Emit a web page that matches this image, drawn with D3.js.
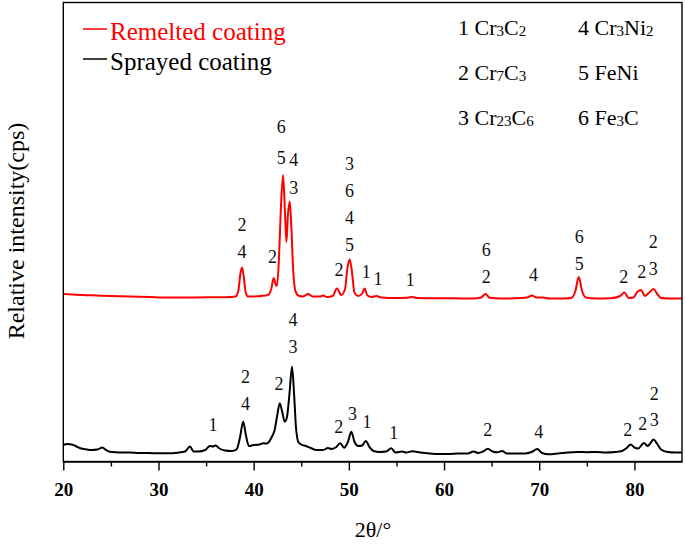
<!DOCTYPE html>
<html><head><meta charset="utf-8">
<script src="https://cdn.jsdelivr.net/npm/d3@7"></script>
<style>
html,body{margin:0;padding:0;background:#fff;}
</style></head>
<body>
<svg id="chart" width="685" height="544" font-family="'Liberation Serif', Tinos, 'Times New Roman', 'Nimbus Roman', 'DejaVu Serif', serif"></svg>
<script>
// ---- data (2θ in degrees, intensity in arbitrary counts) ----
const remeltedTheta = [20.0,21.0,22.0,23.5,25.0,27.0,29.0,31.0,33.0,35.0,36.5,37.5,38.1,38.4,38.6,38.78,38.95,39.15,39.4,40.0,40.8,41.5,41.85,42.1,42.3,42.45,42.65,42.85,43.09,43.3,43.44,43.6,43.79,43.95,44.15,44.4,44.8,45.2,45.7,46.2,47.0,47.3,47.7,48.3,48.75,49.2,49.6,49.85,50.08,50.3,50.6,51.0,51.4,51.66,51.95,52.4,52.9,53.4,55.0,56.0,56.6,57.2,59.0,61.0,63.0,63.9,64.35,64.8,66.0,67.5,68.7,69.25,69.7,70.4,71.0,72.5,73.35,73.8,74.15,74.5,74.9,76.0,77.5,78.5,78.94,79.4,79.9,80.3,80.7,81.1,81.5,82.0,82.4,82.8,83.8,85.0];
const remeltedIntensity = [167.5,167,166.5,166,165.5,165,164.5,164,164,164.2,164.2,164.5,165,171.5,187.5,194,185.5,169.5,165,165,165.5,166.5,172.5,183.5,177.5,175.5,201.5,251.5,286.5,246.5,219.5,246.5,260,236.5,191.5,170,165.5,165,167.5,165,165,166,164.5,165.5,173,166.5,172.5,193.5,202,191.5,168.5,165.5,168,173,166,164.5,165.5,164,163.5,163.7,164.5,163.5,163.2,163.2,163,164,167.5,163.7,163,163.2,164,166,164,164,163,163,163.5,170.5,184.5,170.5,164,163,163.2,165.5,169,163.5,164,169.5,171.5,165.5,168.5,172.5,167.5,163.5,163,163];

const sprayedTheta = [20.0,20.4,20.9,21.3,21.8,22.5,22.9,23.6,24.1,24.5,24.9,26.0,27.0,28.0,29.0,30.0,31.0,32.0,32.8,33.3,33.7,34.2,34.9,35.4,35.7,36.0,36.4,37.0,37.7,38.2,38.55,38.9,39.2,39.5,40.0,40.6,41.0,41.4,41.9,42.2,42.5,42.74,43.0,43.26,43.5,43.75,44.03,44.25,44.45,44.7,45.0,45.5,46.0,46.6,47.3,47.8,48.2,48.6,49.1,49.5,49.9,50.26,50.6,51.0,51.4,51.77,52.2,52.6,53.2,53.9,54.45,54.9,55.6,56.0,56.7,57.5,58.5,59.5,60.5,61.5,62.5,63.1,63.6,64.1,64.6,65.1,65.6,66.1,66.6,67.5,68.5,69.2,69.8,70.3,71.0,72.0,73.0,74.0,75.0,76.0,77.0,78.0,78.7,79.2,79.6,80.0,80.4,81.0,81.4,81.7,82.0,82.4,82.8,83.5,84.3,85.0];
const sprayedIntensity = [16.5,17.5,17,15.5,13.2,12,11.5,12,14,11.5,9.8,9,9,8.5,8.5,8.2,8.2,8.8,10,15,10,10,11.5,15.5,15,16,13,11,10.5,12,23.5,39.8,25.5,15.5,16.5,17,18.2,18,24.5,31.5,47.5,58.2,49.5,39.8,44.5,66.5,94.8,66.5,33.5,19.5,17,15.5,13.5,11.5,11.5,13.5,12.5,14,18.2,13.8,19.5,29.8,19.5,15.5,16,20.5,14,10.5,9.5,10,13.2,9,10,9,10.2,9,8,7.5,7.5,8,8,10,8.5,10,12.8,10,9.2,10.5,8,8,8,9.5,12.5,8.5,7.2,8,9,9.5,9.3,9.5,9,9.5,10.5,13.5,17,14,13,18.5,15.5,18.5,22,17.5,12,9.5,9,9];

// peak annotations: phase number, 2θ, intensity level
const remeltedLabels = ["2","4","2","6","5","4","3","2","3","6","4","5","1","1","1","6","2","4","6","5","2","2","3","2"];
const remeltedLabelTheta = [38.78,38.78,41.97,42.9,42.9,44.21,44.21,48.96,50.08,50.08,50.08,50.08,51.84,53.05,56.45,64.43,64.43,69.39,74.2,74.2,78.87,80.76,81.98,81.98];
const remeltedLabelLevel = [236.5,209.8,204.8,334.5,303.5,301.5,274,191.5,297.5,270.5,244,217,189.8,183.2,181.5,211.5,184.8,186.5,224.8,198.2,184.8,189.8,193.2,219.8];

const sprayedLabels = ["4","3","2","4","2","1","2","3","1","1","2","4","2","2","3","2"];
const sprayedLabelTheta = [44.13,44.13,39.14,39.14,42.67,35.74,48.93,50.37,51.9,54.72,64.6,69.95,79.29,80.87,82.09,82.09];
const sprayedLabelLevel = [141.5,114.8,84.8,58.2,78.2,36.5,34.8,48.2,39.8,29,31.5,29.8,31.5,38.2,41.5,68.2];

const seriesNames = ["Remelted coating","Sprayed coating"];
const phaseNumbers = ["1","2","3","4","5","6"];
const phaseFormulas = ["Cr3C2","Cr7C3","Cr23C6","Cr3Ni2","FeNi","Fe3C"];

const xTickValues = [20,30,40,50,60,70,80];
const xMinorTicks = [25,35,45,55,65,75];
const xTitle = "2θ/°";
const yTitle = "Relative intensity(cps)";

// ---- layout ----
const FONT = "'Liberation Serif', Tinos, 'Times New Roman', 'Nimbus Roman', 'DejaVu Serif', serif";
const mLeft = 63.3, mRight = 682, mTop = 2.5, mBottom = 461.5;
const svg = d3.select("#chart");
const x = d3.scaleLinear().domain([20,85]).range([mLeft,mRight]);
const y = d3.scaleLinear().domain([0,459]).range([mBottom,mTop]);

const line = d3.line().x(d=>x(d[0])).y(d=>y(d[1])).curve(d3.curveMonotoneX);
const remelted = remeltedTheta.map((t,i)=>[t,remeltedIntensity[i]]);
const sprayed = sprayedTheta.map((t,i)=>[t,sprayedIntensity[i]]);

svg.append("path").datum(sprayed).attr("d",line)
  .attr("fill","none").attr("stroke","#000").attr("stroke-width",2).attr("stroke-linejoin","round");
svg.append("path").datum(remelted).attr("d",line)
  .attr("fill","none").attr("stroke","#f00").attr("stroke-width",2).attr("stroke-linejoin","round");

// frame
svg.append("rect").attr("x",mLeft).attr("y",mTop).attr("width",mRight-mLeft).attr("height",mBottom-mTop)
  .attr("fill","none").attr("stroke","#000").attr("stroke-width",1.4);

// x axis
const xAxis = d3.axisBottom(x).tickValues(xTickValues).tickSize(9).tickSizeOuter(0).tickPadding(6);
const gx = svg.append("g").attr("transform",`translate(0,${mBottom})`).call(xAxis)
  .attr("font-family",FONT);
gx.select(".domain").attr("stroke-width",1.4);
gx.selectAll(".tick line").attr("stroke-width",1.4);
gx.selectAll(".tick text").attr("font-size",19).attr("font-weight","bold")
  .attr("font-family",FONT).attr("fill","#000").attr("dy","1.05em");
const gxm = svg.append("g").attr("transform",`translate(0,${mBottom})`)
  .call(d3.axisBottom(x).tickValues(xMinorTicks).tickSize(5).tickFormat(""));
gxm.select(".domain").remove();
gxm.selectAll(".tick line").attr("stroke-width",1.4);

svg.append("text").attr("x",373).attr("y",537).attr("text-anchor","middle")
  .attr("font-family",FONT).attr("font-size",22).text(xTitle);
svg.append("text").attr("transform","translate(24,231) rotate(-90)").attr("text-anchor","middle")
  .attr("font-family",FONT).attr("font-size",24).text(yTitle);

// peak labels
function addLabels(labels, th, lv){
  svg.append("g").selectAll("text").data(labels).join("text")
    .attr("x",(d,i)=>x(th[i])).attr("y",(d,i)=>y(lv[i]))
    .attr("dy","0.35em").attr("text-anchor","middle").attr("font-size",18).attr("fill","#111")
    .attr("font-family",FONT).text(d=>d);
}
addLabels(remeltedLabels, remeltedLabelTheta, remeltedLabelLevel);
addLabels(sprayedLabels, sprayedLabelTheta, sprayedLabelLevel);

// series legend
const legColors = ["#f00","#000"];
seriesNames.forEach((n,i)=>{
  const by = 40 + i*30;
  svg.append("line").attr("x1",83).attr("x2",107).attr("y1",by-11).attr("y2",by-11)
    .attr("stroke",legColors[i]).attr("stroke-width",1.5);
  svg.append("text").attr("x",110).attr("y",by).attr("font-family",FONT).attr("font-size",25)
    .attr("fill",legColors[i]).text(n);
});

// phase legend
phaseFormulas.forEach((f,i)=>{
  const col = Math.floor(i/3), row = i%3;
  const t = svg.append("text").attr("x",458 + col*120).attr("y",35 + row*45)
    .attr("font-family",FONT).attr("font-size",22);
  t.append("tspan").text(phaseNumbers[i] + "\u00a0");
  const parts = f.match(/[A-Za-z]+|\d+/g);
  let shifted = false;
  parts.forEach(p=>{
    if(/\d/.test(p)){
      t.append("tspan").attr("font-size",15).attr("dy",shifted?0:1).text(p); shifted = true;
    } else {
      t.append("tspan").attr("font-size",22).attr("dy",shifted?-1:0).text(p); shifted = false;
    }
  });
});
</script>
</body></html>
